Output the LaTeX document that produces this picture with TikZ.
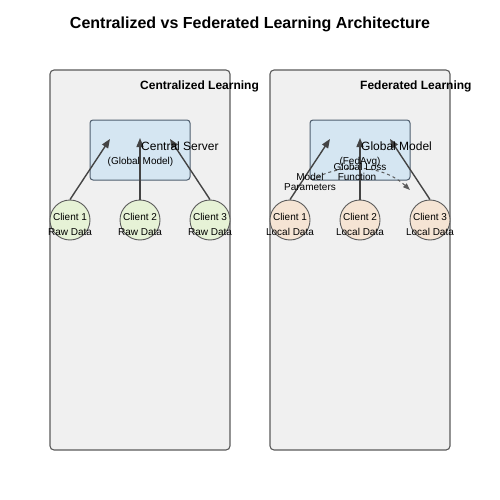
\documentclass[tikz,border=0pt]{standalone}
\usepackage{fontspec}
\setmainfont{Liberation Sans}
\usetikzlibrary{arrows.meta}

\definecolor{panelfill}{HTML}{F0F0F0}
\definecolor{edgegray}{HTML}{5A5A5A}
\definecolor{serverfill}{HTML}{D5E6F2}
\definecolor{serveredge}{HTML}{4E5E6E}
\definecolor{rawfill}{HTML}{E6F2D6}
\definecolor{localfill}{HTML}{F5E4D4}
\definecolor{arrowgray}{HTML}{444444}

\tikzset{
  panel/.style={draw=edgegray, fill=panelfill, rounded corners=4pt, line width=1.1pt,
    minimum width=180pt, minimum height=380pt, inner sep=0pt},
  serverbox/.style={draw=serveredge, fill=serverfill, rounded corners=3pt, line width=1pt,
    minimum width=100pt, minimum height=60pt, inner sep=0pt},
  client/.style={circle, draw=edgegray, line width=0.9pt, minimum size=40pt, inner sep=0pt},
  txt/.style={inner sep=0pt, anchor=base, font=\fontsize{10}{12}\selectfont},
  uplink/.style={draw=arrowgray, line width=1.4pt, -{Triangle[length=9pt,width=7pt]}},
  lossflow/.style={draw=edgegray, line width=1pt, dashed, -{Triangle[length=7pt,width=5pt]}}
}

\begin{document}
\begin{tikzpicture}[x=1pt,y=-1pt]
    \useasboundingbox (0,0) rectangle (500,500);

    \node [font=\fontsize{16}{19}\selectfont\bfseries, anchor=base] (title) at (250,29) {Centralized vs Federated Learning Architecture};

    % centralized side
    \node [panel] (cpanel) at (140,260) {};
    \node [serverbox] (server) at (140,150) {};
    \node [client, fill=rawfill] (rc1) at (70,220) {};
    \node [client, fill=rawfill] (rc2) at (140,220) {};
    \node [client, fill=rawfill] (rc3) at (210,220) {};

    \coordinate (ctip1) at (110,139);
    \coordinate (ctip2) at (140,138);
    \coordinate (ctip3) at (170,139);
    \draw [uplink] (rc1.north) -- (ctip1);
    \draw [uplink] (rc2.north) -- (ctip2);
    \draw [uplink] (rc3.north) -- (ctip3);

    \node [font=\fontsize{12}{14}\selectfont\bfseries, inner sep=0pt, anchor=base west] (ctitle) at (140,90) {Centralized Learning};
    \node [font=\fontsize{12}{14}\selectfont, inner sep=0pt, anchor=base west] (slabel) at (141,150) {Central Server};
    \node [txt] (sdesc) at (140.5,164) {(Global Model)};

    \node [txt] (rl1) at (70,220) {Client 1};
    \node [txt] (rd1) at (70,235) {Raw Data};
    \node [txt] (rl2) at (140,220) {Client 2};
    \node [txt] (rd2) at (140,235) {Raw Data};
    \node [txt] (rl3) at (210,220) {Client 3};
    \node [txt] (rd3) at (210,235) {Raw Data};

    % federated side
    \node [panel] (fpanel) at (360,260) {};
    \node [serverbox] (global) at (360,150) {};
    \node [client, fill=localfill] (lc1) at (290,220) {};
    \node [client, fill=localfill] (lc2) at (360,220) {};
    \node [client, fill=localfill] (lc3) at (430,220) {};

    \coordinate (ftip1) at (330,139);
    \coordinate (ftip2) at (360,138);
    \coordinate (ftip3) at (390,139);
    \draw [uplink] (lc1.north) -- (ftip1);
    \draw [uplink] (lc2.north) -- (ftip2);
    \draw [uplink] (lc3.north) -- (ftip3);

    \coordinate (lossfrom) at (312,180);
    \coordinate (lossto) at (410,190);
    \draw [lossflow] (lossfrom) .. controls (340,163) and (382,164) .. (lossto);

    \node [font=\fontsize{12}{14}\selectfont\bfseries, inner sep=0pt, anchor=base west] (ftitle) at (360,90) {Federated Learning};
    \node [font=\fontsize{12}{14}\selectfont, inner sep=0pt, anchor=base west] (glabel) at (361,150) {Global Model};
    \node [txt] (gdesc) at (360,164) {(FedAvg)};
    \node [txt] (loss1) at (360,170) {Global Loss};
    \node [txt] (loss2) at (357,180) {Function};
    \node [txt] (par1) at (310,180) {Model};
    \node [txt] (par2) at (310,190) {Parameters};

    \node [txt] (ll1) at (290,220) {Client 1};
    \node [txt] (ld1) at (290,235) {Local Data};
    \node [txt] (ll2) at (360,220) {Client 2};
    \node [txt] (ld2) at (360,235) {Local Data};
    \node [txt] (ll3) at (430,220) {Client 3};
    \node [txt] (ld3) at (430,235) {Local Data};
\end{tikzpicture}
\end{document}
